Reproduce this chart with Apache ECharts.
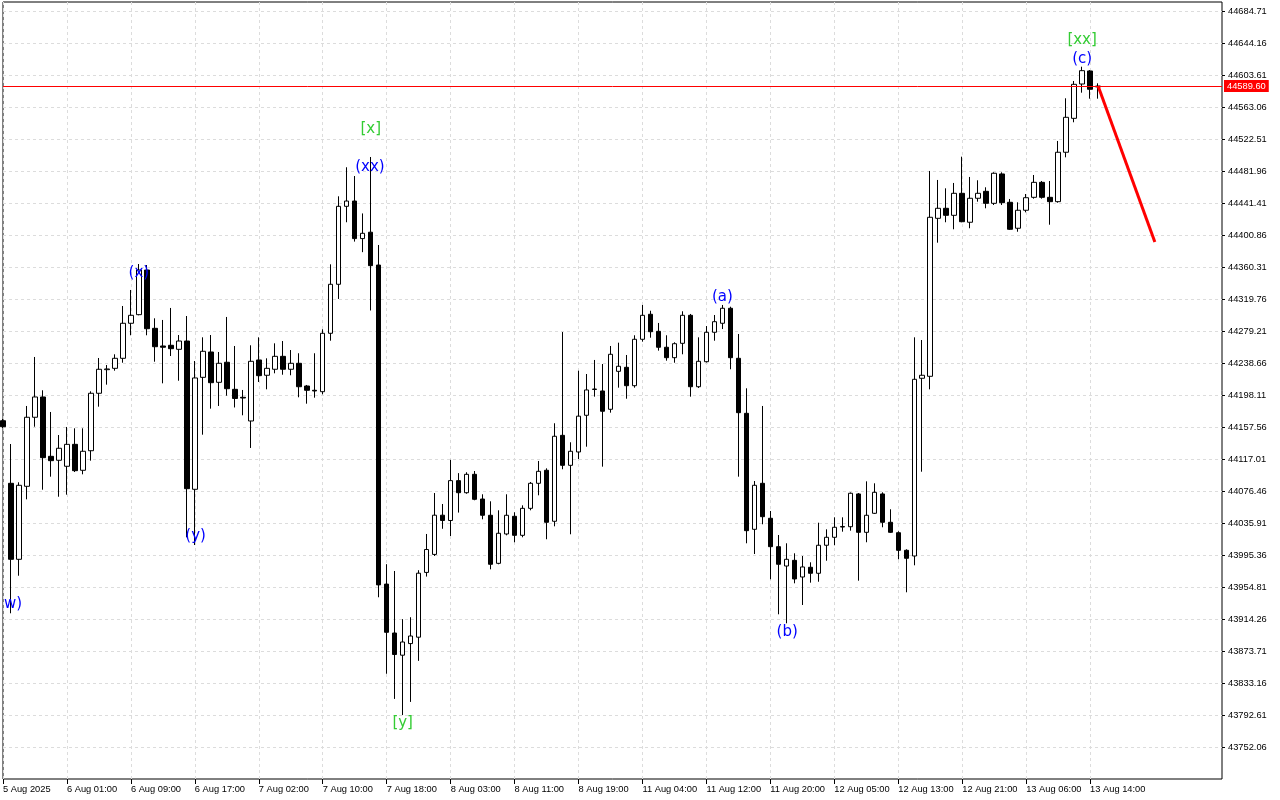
<!DOCTYPE html>
<html>
<head>
<meta charset="utf-8">
<title>US30 H1</title>
<script src="https://cdn.jsdelivr.net/npm/echarts@6/dist/echarts.min.js"></script>
<style>
  html, body { margin: 0; padding: 0; background: #fff; }
  #chart { width: 1280px; height: 800px; }
</style>
</head>
<body>
<div id="chart"></div>
<script>
// hourly candles, index 0 = first bar on the left edge
const opens = [44165.5,44086.2,43989.9,44082.4,44169.9,44195.6,44120.4,44115.4,44107.8,44135.6,
  44102.7,44127.5,44200.3,44230.2,44231.9,44244.6,44289.0,44299.9,44356.5,44282.6,
  44260.2,44261.1,44256.0,44266.5,44078.6,44220.5,44252.6,44214.2,44239.6,44205.3,
  44195.2,44165.2,44242.5,44223.1,44230.7,44247.1,44230.7,44238.3,44209.5,44204.1,
  44202.3,44276.3,44338.4,44437.2,44443.9,44396.3,44404.4,44362.8,43958.5,43896.5,
  43868.4,43883.1,43891.2,43973.3,43996.1,44045.8,44039.1,44089.6,44074.3,44097.6,
  44066.3,44045.7,43984.8,44022.0,44044.4,44020.3,44054.5,44086.2,44102.7,44038.1,
  44147.0,44109.0,44125.9,44172.4,44205.1,44203.2,44180.0,44228.1,44233.2,44209.9,
  44268.7,44300.4,44278.8,44258.6,44245.4,44263.6,44299.1,44208.6,44240.3,44277.6,
  44289.0,44308.0,44244.6,44174.9,44027.9,44086.2,44041.9,44005.9,43981.4,43988.6,
  43967.5,43979.8,43972.2,44007.7,44017.8,44030.8,44031.2,44072.7,44024.1,44048.2,
  44072.7,44036.8,44023.6,44001.3,43994.1,44219.3,44221.8,44422.0,44434.7,44425.8,
  44453.7,44417.0,44447.4,44456.2,44441.0,44478.2,44442.3,44409.4,44432.2,44448.6,
  44467.6,44448.6,44443.1,44505.7,44548.7,44592.2,44608.7,44588.5];
const highs = [44167.7,44136.0,44087.5,44184.2,44246.3,44204.1,44176.6,44147.4,44157.6,44155.9,
  44155.9,44202.8,44245.0,44236.1,44249.7,44310.9,44331.2,44364.1,44362.8,44295.3,
  44293.2,44308.4,44274.1,44298.2,44241.2,44271.2,44274.1,44252.6,44297.0,44260.2,
  44204.5,44261.1,44271.2,44244.6,44263.6,44266.5,44255.1,44251.0,44210.8,44251.0,
  44281.4,44363.7,44449.9,44486.7,44475.6,44428.2,44499.7,44388.2,43983.7,43975.1,
  43914.1,43916.5,43976.1,44022.0,44073.9,44060.0,44115.9,44099.1,44100.2,44101.8,
  44072.3,44063.4,44052.0,44072.3,44049.5,44058.3,44087.9,44114.5,44105.2,44162.3,
  44277.9,44138.2,44228.9,44224.7,44242.5,44237.4,44260.2,44264.4,44248.8,44273.8,
  44312.2,44304.9,44289.4,44273.8,44264.9,44304.2,44300.8,44271.2,44285.5,44299.5,
  44312.2,44310.0,44275.4,44206.6,44089.1,44184.2,44051.1,44020.7,44010.2,43997.5,
  43994.1,43986.1,44036.3,44027.9,44043.1,44043.1,44074.6,44073.9,44088.7,44086.2,
  44074.8,44053.3,44025.4,44002.6,44271.2,44267.8,44482.0,44470.6,44460.0,44466.8,
  44500.1,44474.4,44470.2,44461.3,44480.3,44480.3,44446.5,44442.3,44452.8,44476.9,
  44469.3,44469.3,44520.0,44574.1,44596.0,44614.1,44609.9,44593.1];
const lows = [44156.3,43921.5,43969.1,44065.9,44157.9,44078.1,44094.6,44069.2,44071.8,44100.5,
  44097.6,44114.9,44183.3,44211.2,44228.9,44239.0,44273.8,44299.1,44273.8,44240.3,
  44212.9,44247.5,44216.2,44017.8,44008.0,44147.8,44180.8,44184.2,44197.2,44182.3,
  44172.4,44131.0,44214.6,44205.3,44225.6,44223.8,44223.1,44195.2,44187.1,44194.7,
  44199.0,44266.9,44319.8,44417.0,44392.5,44379.1,44305.2,43941.8,43844.9,43813.0,
  43792.5,43809.2,43861.2,43968.0,43994.1,44028.6,44019.4,44049.1,44073.0,44064.7,
  44040.6,43977.2,43983.6,44020.3,44011.5,44017.8,44052.0,44071.0,44015.3,44031.7,
  44104.0,44021.6,44117.0,44132.6,44196.0,44107.3,44175.7,44207.4,44193.4,44207.4,
  44265.7,44270.7,44254.3,44241.6,44239.0,44249.7,44196.0,44207.0,44239.3,44266.9,
  44281.7,44230.7,44094.6,44010.2,43996.6,44034.3,43964.6,43920.2,43908.8,43959.5,
  43932.0,43960.3,43961.5,43988.1,44007.7,44024.9,44026.2,43962.8,44011.5,44047.3,
  44030.5,44023.2,43989.9,43948.1,43982.3,44100.9,44205.3,44391.1,44417.0,44408.1,
  44417.0,44409.4,44443.1,44434.7,44438.9,44438.9,44407.2,44405.0,44429.6,44446.9,
  44446.9,44413.9,44441.8,44499.3,44543.7,44581.2,44573.6,44573.6];
const closes = [44157.9,43989.9,44083.7,44169.9,44195.6,44118.7,44114.9,44130.6,44135.6,44102.2,
  44126.8,44200.3,44230.7,44231.1,44244.6,44289.0,44299.1,44356.5,44282.1,44259.3,
  44258.6,44256.8,44266.5,44079.4,44219.7,44253.5,44213.7,44238.3,44206.1,44193.7,
  44194.3,44240.8,44222.6,44231.9,44247.1,44230.7,44238.3,44208.6,44204.1,44203.2,
  44276.3,44338.4,44437.2,44443.9,44396.3,44403.0,44362.0,43957.5,43897.4,43869.3,
  43885.1,43892.7,43972.3,44002.3,44045.8,44039.1,44089.6,44074.3,44097.6,44065.9,
  44045.7,43983.6,44022.9,44045.7,44020.3,44054.5,44086.2,44101.4,44036.8,44145.8,
  44109.0,44126.8,44171.3,44204.5,44205.7,44177.5,44249.7,44234.5,44209.9,44268.7,
  44299.1,44278.3,44258.6,44245.4,44263.1,44299.1,44208.6,44240.8,44277.6,44291.0,
  44308.0,44245.4,44175.7,44026.2,44083.7,44043.9,44005.9,43983.6,43989.9,43965.0,
  43980.2,43972.2,44007.7,44017.8,44030.5,44031.5,44073.6,44024.1,44045.7,44074.8,
  44036.8,44024.1,44001.3,43991.2,44218.0,44223.1,44423.3,44434.7,44425.8,44453.7,
  44417.7,44447.4,44453.7,44441.0,44479.1,44441.8,44408.1,44432.2,44448.1,44467.6,
  44448.6,44443.1,44505.7,44550.0,44591.8,44609.1,44585.5,44589.6];

// time axis: a label every 8 bars
const tickLabels = ['5 Aug 2025','6 Aug 01:00','6 Aug 09:00','6 Aug 17:00','7 Aug 02:00',
  '7 Aug 10:00','7 Aug 18:00','8 Aug 03:00','8 Aug 11:00','8 Aug 19:00','11 Aug 04:00',
  '11 Aug 12:00','11 Aug 20:00','12 Aug 05:00','12 Aug 13:00','12 Aug 21:00',
  '13 Aug 06:00','13 Aug 14:00'];

// price scale labels (bottom one and step)
const priceLow = 43752.06;
const priceStep = 40.55;
const priceTickCount = 24;

const lastPrice = 44589.60;

// forecast arrow (bar index, price)
const arrowX = [137, 144.1];
const arrowY = [44589.6, 44392.0];

// wave marks (bar index, price)
const waveText = ['w)', '(x)', '(y)', '[x]', '(xx)', '[y]', '(a)', '(b)', '[xx]', '(c)'];
const waveX = [1.25, 17, 24.1, 46, 45.9, 50, 90, 98.1, 135, 135];
const waveY = [43933.3, 44352.0, 44019.4, 44535.2, 44487.0, 43782.5, 44322.0, 43897.8, 44648.0, 44624.0];

// axis works in hundredths relative to the lowest label, so ticks stay exact
const BASE = Math.round(priceLow * 100);
const STEP = Math.round(priceStep * 100);
const toV = p => Math.round(p * 100) - BASE;
const fromV = v => ((v + BASE) / 100).toFixed(2);

const candles = opens.map((o, i) => [i, toV(o), toV(closes[i]), toV(lows[i]), toV(highs[i])]);
const yTicks = [];
for (let i = 0; i < priceTickCount; i++) yTicks.push(i * STEP);
const xTicks = tickLabels.map((_, i) => i * 8);

const axisFont = { fontFamily: 'Liberation Sans', fontSize: 9.3, color: '#000' };

const chart = echarts.init(document.getElementById('chart'));
chart.setOption({
  animation: false,
  backgroundColor: '#fff',
  grid: {
    left: 2, top: 2, width: 1220, height: 777,
    show: true, borderColor: '#000', borderWidth: 1, backgroundColor: '#fff'
  },
  xAxis: {
    type: 'value', min: 0, max: 152.5, interval: 4,
    axisLine: { show: false, onZero: false },
    axisTick: { show: true, length: 5, customValues: xTicks, lineStyle: { color: '#000' } },
    axisLabel: Object.assign({
      customValues: xTicks, align: 'left', margin: 6,
      formatter: v => (v % 8 === 0 && tickLabels[v / 8]) ? tickLabels[v / 8] : ''
    }, axisFont),
    splitLine: { show: true, lineStyle: { color: '#dcdcdc', type: [3, 3], width: 1 } }
  },
  yAxis: {
    type: 'value', position: 'right', min: -STEP, max: 94405, interval: STEP,
    axisLine: { show: false, onZero: false },
    axisTick: { show: true, length: 3, customValues: yTicks, lineStyle: { color: '#000' } },
    axisLabel: Object.assign({
      customValues: yTicks, margin: 6,
      formatter: v => (v < 0 || v > yTicks[yTicks.length - 1]) ? '' : fromV(v)
    }, axisFont),
    splitLine: { show: true, lineStyle: { color: '#dcdcdc', type: [3, 3], width: 1 } }
  },
  series: [
    {
      type: 'candlestick',
      data: candles,
      encode: { x: 0, y: [1, 2, 3, 4] },
      barWidth: 5,
      itemStyle: {
        color: '#fff', color0: '#000',
        borderColor: '#000', borderColor0: '#000', borderWidth: 1
      },
      markLine: {
        silent: true,
        symbol: ['none', 'none'],
        lineStyle: { color: '#ff0000', width: 1, type: 'solid' },
        label: {
          show: true, position: 'end', distance: 2,
          formatter: () => lastPrice.toFixed(2),
          color: '#fff', backgroundColor: '#ff0000',
          fontFamily: 'Liberation Sans', fontSize: 9.3, padding: [2, 3, 1, 3]
        },
        data: [{ yAxis: toV(lastPrice) }]
      }
    },
    {
      type: 'line',
      data: arrowX.map((x, i) => [x, toV(arrowY[i])]),
      showSymbol: false,
      symbol: 'none',
      lineStyle: { color: '#ff0000', width: 3 },
      z: 5
    },
    {
      // wave labels drawn as plain text at their data point
      type: 'custom',
      clip: false,
      data: waveText.map((t, i) => [waveX[i], toV(waveY[i])]),
      renderItem: (params, api) => {
        const pt = api.coord([api.value(0), api.value(1)]);
        const t = waveText[params.dataIndex];
        return {
          type: 'text',
          x: pt[0], y: pt[1],
          style: {
            text: t,
            fill: t[0] === '[' ? '#33cc33' : '#0000ff',
            font: '15px "DejaVu Sans"',
            align: 'center', verticalAlign: 'middle'
          }
        };
      },
      z: 6
    }
  ]
});
</script>
</body>
</html>
